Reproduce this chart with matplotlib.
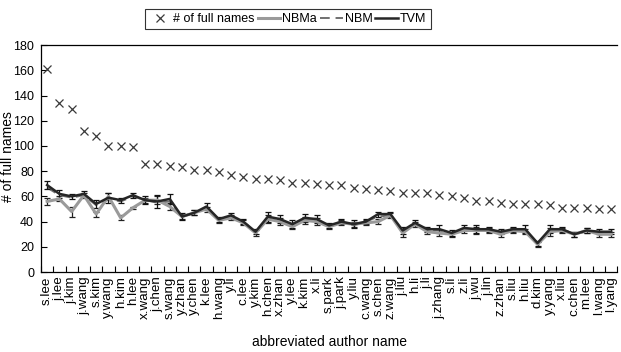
import matplotlib
matplotlib.use("Agg")
import matplotlib.pyplot as plt
from matplotlib.lines import Line2D
import numpy as np

plt.rcParams['font.family'] = ['Liberation Sans', 'DejaVu Sans']

names = ["s.lee", "j.lee", "j.kim", "j.wang", "s.kim", "y.wang", "h.kim", "h.lee",
         "x.wang", "j.chen", "s.wang", "y.zhan", "y.chen", "k.lee", "h.wang", "y.li",
         "c.lee", "y.kim", "h.chen", "x.zhan", "y.lee", "k.kim", "x.li", "s.park",
         "j.park", "y.liu", "c.wang", "s.chen", "z.wang", "j.liu", "h.li", "j.li",
         "j.zhang", "s.li", "z.li", "j.wu", "j.lin", "z.zhan", "s.liu", "h.liu",
         "d.kim", "y.yang", "x.liu", "c.chen", "m.lee", "l.wang", "l.yang"]

full_names = [161, 134, 129, 112, 108, 100, 100, 99, 86, 86, 84, 83, 81, 81, 79, 77,
              75, 74, 74, 73, 71, 71, 70, 69, 69, 67, 66, 65, 64, 63, 63, 63,
              61, 60, 59, 56, 56, 55, 54, 54, 54, 53, 51, 51, 51, 50, 50]

tvm = [69, 62, 60, 62, 54, 59, 57, 61, 57, 56, 58, 44, 47, 52, 42, 45,
       40, 32, 44, 42, 38, 43, 42, 37, 40, 38, 40, 46, 46, 33, 39, 34,
       34, 31, 35, 34, 34, 32, 34, 34, 23, 34, 34, 30, 33, 32, 32]
tvm_err = [3, 3, 2, 2, 3, 4, 2, 2, 3, 5, 4, 3, 2, 3, 2, 2,
           2, 2, 4, 3, 3, 3, 3, 2, 2, 3, 2, 2, 2, 3, 2, 2,
           3, 2, 2, 3, 2, 2, 2, 3, 2, 3, 2, 2, 2, 2, 2]

nbm = [67, 61, 59, 61, 53, 58, 56, 60, 57, 55, 56, 44, 47, 51, 42, 44,
       40, 32, 43, 41, 38, 42, 41, 37, 40, 37, 40, 44, 45, 33, 38, 34,
       33, 31, 34, 34, 33, 31, 34, 33, 23, 33, 34, 30, 32, 32, 31]

nbma = [56, 58, 48, 61, 46, 60, 43, 51, 57, 57, 52, 44, 47, 50, 41, 43,
        39, 31, 42, 40, 36, 41, 40, 36, 39, 38, 39, 40, 45, 31, 38, 32,
        31, 30, 33, 33, 33, 30, 33, 32, 22, 32, 33, 30, 33, 30, 30]
nbma_err = [3, 2, 4, 2, 2, 3, 2, 1, 2, 3, 3, 2, 2, 2, 2, 2,
            2, 2, 3, 3, 2, 3, 3, 2, 2, 2, 2, 2, 2, 3, 2, 2,
            2, 2, 2, 3, 2, 2, 2, 2, 2, 3, 2, 2, 2, 2, 2]

x = np.arange(len(names))

fig = plt.figure(figsize=(6.21, 3.52), dpi=100)
ax = fig.add_axes([0.066, 0.227, 0.928, 0.645])

ax.plot(x, full_names, linestyle='none', marker='x', color='#3a3a3a',
        markersize=6, markeredgewidth=0.9)
ax.errorbar(x, nbma, yerr=nbma_err, color='#9a9a9a', linewidth=2.2,
            ecolor='#222222', elinewidth=0.9, capsize=2, capthick=0.9)
ax.plot(x, nbm, color='#707070', linewidth=1.4, linestyle=(0, (5, 3)))
ax.errorbar(x, tvm, yerr=tvm_err, color='#262626', linewidth=1.8,
            ecolor='#111111', elinewidth=0.9, capsize=2, capthick=0.9)

ax.set_xlim(-0.5, len(names) - 0.5)
ax.set_ylim(0, 180)
ax.set_yticks(np.arange(0, 181, 20))
ax.set_xticks(x)
ax.set_xticklabels(names, rotation=90, fontsize=9.6)
ax.set_xticks(np.arange(-0.5, len(names) - 0.4, 1), minor=True)
ax.tick_params(axis='x', which='major', length=0, pad=3)
ax.tick_params(axis='x', which='minor', direction='in', length=4, width=0.8)
ax.tick_params(axis='y', direction='in', length=4, width=0.8, labelsize=9, pad=5)

for s in ['left', 'bottom', 'top']:
    ax.spines[s].set_linewidth(0.9)
    ax.spines[s].set_color('black')
ax.spines['right'].set_visible(False)

fig.text(8 / 621, 0.555, '# of full names', rotation=90, fontsize=10,
         ha='center', va='center')
fig.text(330 / 621, 0.028, 'abbreviated author name', fontsize=10,
         ha='center', va='center')

handles = [Line2D([], [], linestyle='none', marker='x', color='#3a3a3a',
                  markersize=6, markeredgewidth=0.9),
           Line2D([], [], color='#9a9a9a', linewidth=2.2),
           Line2D([], [], color='#707070', linewidth=1.4, linestyle=(0, (5, 3))),
           Line2D([], [], color='#262626', linewidth=1.8)]
leg = fig.legend(handles, ['# of full names', 'NBMa', 'NBM', 'TVM'],
                 loc='center', bbox_to_anchor=(0.463, 0.946), ncol=4,
                 fontsize=9, frameon=True, fancybox=False, handlelength=1.8,
                 handletextpad=0.15, columnspacing=0.25, borderpad=0.35,
                 borderaxespad=0)
leg.get_frame().set_edgecolor('black')
leg.get_frame().set_linewidth(0.8)

fig.savefig('out.png', dpi=100)
